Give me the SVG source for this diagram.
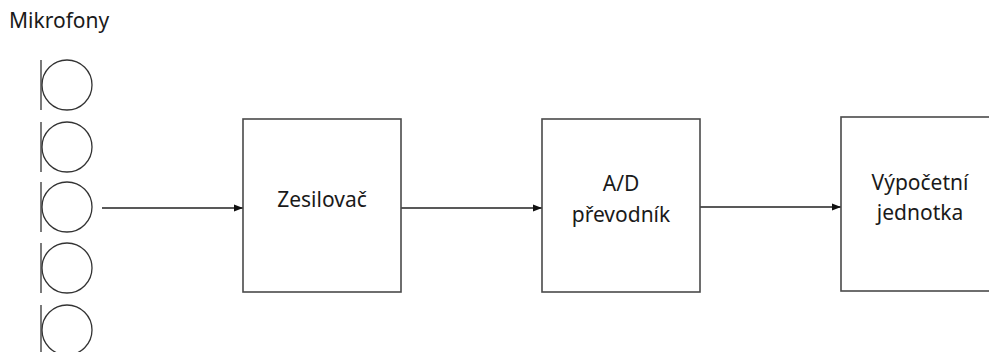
<svg xmlns="http://www.w3.org/2000/svg" width="989" height="352" viewBox="0 0 989 352">
<style>
.box{fill:#fff;stroke:#4a4a4a;stroke-width:1.6}
.mic{fill:none;stroke:#333;stroke-width:1.3}
.lbl{font-family:"Noto Sans","Liberation Sans",sans-serif;font-size:21px;fill:#1a1a1a;text-anchor:middle}
.conn{stroke:#222;stroke-width:1.5;fill:none;marker-end:url(#ah)}
</style>
<defs>
<marker id="ah" viewBox="0 0 10 10" refX="10" refY="5" markerWidth="9" markerHeight="9" markerUnits="userSpaceOnUse" orient="auto">
<path d="M0,1 L10,5 L0,9 z" fill="#111"/>
</marker>
</defs>
<rect width="989" height="352" fill="#fff"/>
<text x="9" y="28" style="font-family:'Noto Sans','Liberation Sans',sans-serif;font-size:21px;fill:#1a1a1a">Mikrofony</text>
<g id="mikrofony">
<g id="mic1"><line class="mic" x1="41" y1="60" x2="41" y2="110"/><circle class="mic" cx="67" cy="85" r="25"/></g>
<g id="mic2"><line class="mic" x1="41" y1="122" x2="41" y2="172"/><circle class="mic" cx="67" cy="147" r="25"/></g>
<g id="mic3"><line class="mic" x1="41" y1="182" x2="41" y2="232"/><circle class="mic" cx="67" cy="207" r="25"/></g>
<g id="mic4"><line class="mic" x1="41" y1="243" x2="41" y2="293"/><circle class="mic" cx="67" cy="268" r="25"/></g>
<g id="mic5"><line class="mic" x1="41" y1="305" x2="41" y2="352"/><circle class="mic" cx="67" cy="330" r="25"/></g>
</g>
<g id="connectors">
<line class="conn" x1="102" y1="208" x2="243" y2="208"/>
<line class="conn" x1="401" y1="208" x2="542" y2="208"/>
<line class="conn" x1="700" y1="207" x2="841" y2="207"/>
</g>
<g id="zesilovac">
<rect class="box" x="243" y="119" width="158" height="173"/>
<text class="lbl" x="322" y="207">Zesilovač</text>
</g>
<g id="ad">
<rect class="box" x="542" y="119" width="158" height="173"/>
<text class="lbl" x="621" y="191">A/D</text>
<text class="lbl" x="621" y="222">převodník</text>
</g>
<g id="vypocetni">
<rect class="box" x="841" y="117" width="158" height="174"/>
<text class="lbl" x="920" y="190">Výpočetní</text>
<text class="lbl" x="920" y="220">jednotka</text>
</g>
</svg>
